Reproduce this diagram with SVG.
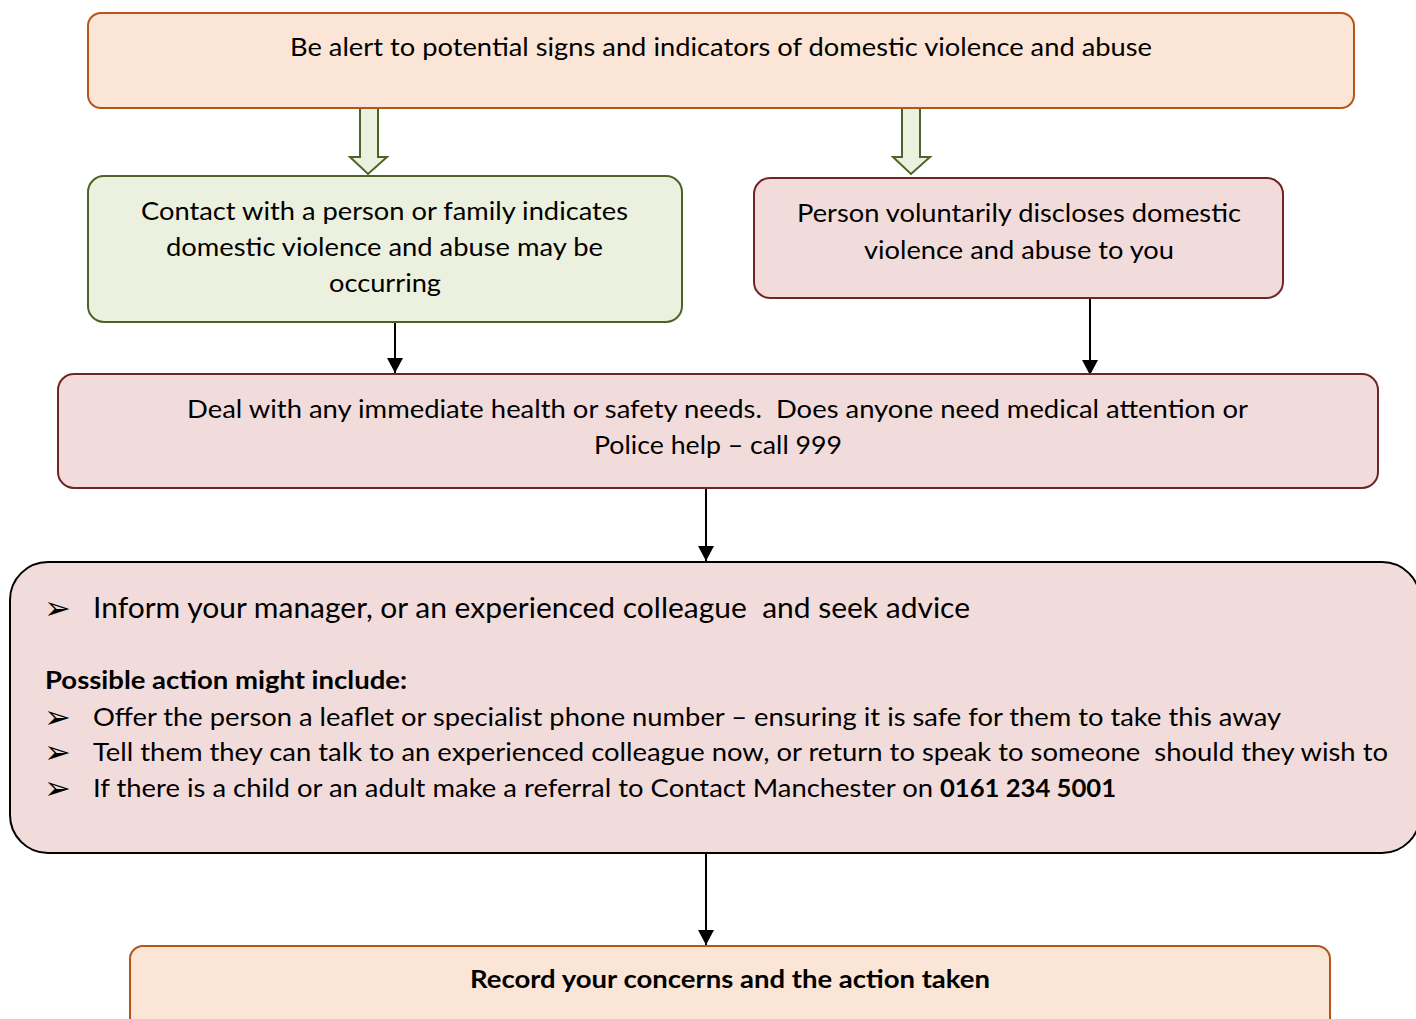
<svg xmlns="http://www.w3.org/2000/svg" width="1416" height="1019" viewBox="0 0 1416 1019">
<defs>
<style>
.t{font-family:Lato,"Liberation Sans",sans-serif;font-size:25px;fill:#000;white-space:pre}
.b{font-weight:bold}
.big{font-size:28px}
.bul{font-family:"DejaVu Sans",sans-serif;font-size:32px;fill:#000}
.peach{fill:#fbe5d6;stroke:#b4561a;stroke-width:2}
.green{fill:#ebf1de;stroke:#4f6228;stroke-width:2}
.pink{fill:#f2dcdb;stroke:#6e2624;stroke-width:2}
.blk{fill:#ebf1de;stroke:#4f6228;stroke-width:2}
.ln{stroke:#000;stroke-width:2;fill:none}
</style>
<marker id="ah" viewBox="0 0 15 16" refX="15" refY="8" markerWidth="15" markerHeight="16" markerUnits="userSpaceOnUse" orient="auto">
<path d="M0,0 L15,8 L0,16 Z" fill="#000"/>
</marker>
</defs>
<g id="connectors">
<polygon class="blk" points="360,108 378,108 378,157 387,157 368,174 350,157 360,157"/>
<polygon class="blk" points="902,108 920,108 920,157 930,157 911,174 893,157 902,157"/>
<line class="ln" x1="395" y1="322" x2="395" y2="373" marker-end="url(#ah)"/>
<line class="ln" x1="1090" y1="298" x2="1090" y2="375" marker-end="url(#ah)"/>
<line class="ln" x1="706" y1="488" x2="706" y2="561" marker-end="url(#ah)"/>
<line class="ln" x1="706" y1="851" x2="706" y2="945" marker-end="url(#ah)"/>
</g>
<g id="alert">
<rect class="peach" x="88" y="13" width="1266" height="95" rx="13"/>
<text class="t" x="290" y="56" textLength="862" lengthAdjust="spacingAndGlyphs">Be alert to potential signs and indicators of domestic violence and abuse</text>
</g>
<g id="contact">
<rect class="green" x="88" y="176" width="594" height="146" rx="16"/>
<text class="t" x="141" y="220" textLength="487" lengthAdjust="spacingAndGlyphs">Contact with a person or family indicates</text>
<text class="t" x="166" y="256" textLength="437" lengthAdjust="spacingAndGlyphs">domestic violence and abuse may be</text>
<text class="t" x="329" y="292" textLength="112" lengthAdjust="spacingAndGlyphs">occurring</text>
</g>
<g id="disclose">
<rect class="pink" x="754" y="178" width="529" height="120" rx="16"/>
<text class="t" x="797" y="222" textLength="444" lengthAdjust="spacingAndGlyphs">Person voluntarily discloses domestic</text>
<text class="t" x="864" y="259" textLength="310" lengthAdjust="spacingAndGlyphs">violence and abuse to you</text>
</g>
<g id="deal">
<rect class="pink" x="58" y="374" width="1320" height="114" rx="16"/>
<text class="t" x="187" y="418" textLength="1061" lengthAdjust="spacingAndGlyphs">Deal with any immediate health or safety needs.  Does anyone need medical attention or</text>
<text class="t" x="594" y="454" textLength="248" lengthAdjust="spacingAndGlyphs">Police help – call 999</text>
</g>
<g id="inform">
<rect x="10" y="562" width="1410" height="291" rx="38" fill="#f2dcdb" stroke="#000" stroke-width="2"/>
<text class="bul" x="44" y="619">➢</text>
<text class="t big" x="93" y="618" textLength="877" lengthAdjust="spacingAndGlyphs">Inform your manager, or an experienced colleague  and seek advice</text>
<text class="t b" x="45" y="689" textLength="362" lengthAdjust="spacingAndGlyphs">Possible action might include:</text>
<text class="bul" x="44" y="728">➢</text>
<text class="t" x="93" y="726" textLength="1188" lengthAdjust="spacingAndGlyphs">Offer the person a leaflet or specialist phone number – ensuring it is safe for them to take this away</text>
<text class="bul" x="44" y="763">➢</text>
<text class="t" x="93" y="761" textLength="1295" lengthAdjust="spacingAndGlyphs">Tell them they can talk to an experienced colleague now, or return to speak to someone  should they wish to</text>
<text class="bul" x="44" y="799">➢</text>
<text class="t" x="93" y="797" textLength="840" lengthAdjust="spacingAndGlyphs">If there is a child or an adult make a referral to Contact Manchester on</text>
<text class="t b" x="940" y="797" textLength="176" lengthAdjust="spacingAndGlyphs">0161 234 5001</text>
</g>
<g id="record">
<rect class="peach" x="130" y="946" width="1200" height="90" rx="13"/>
<text class="t b" x="470" y="988" textLength="520" lengthAdjust="spacingAndGlyphs">Record your concerns and the action taken</text>
</g>
</svg>
